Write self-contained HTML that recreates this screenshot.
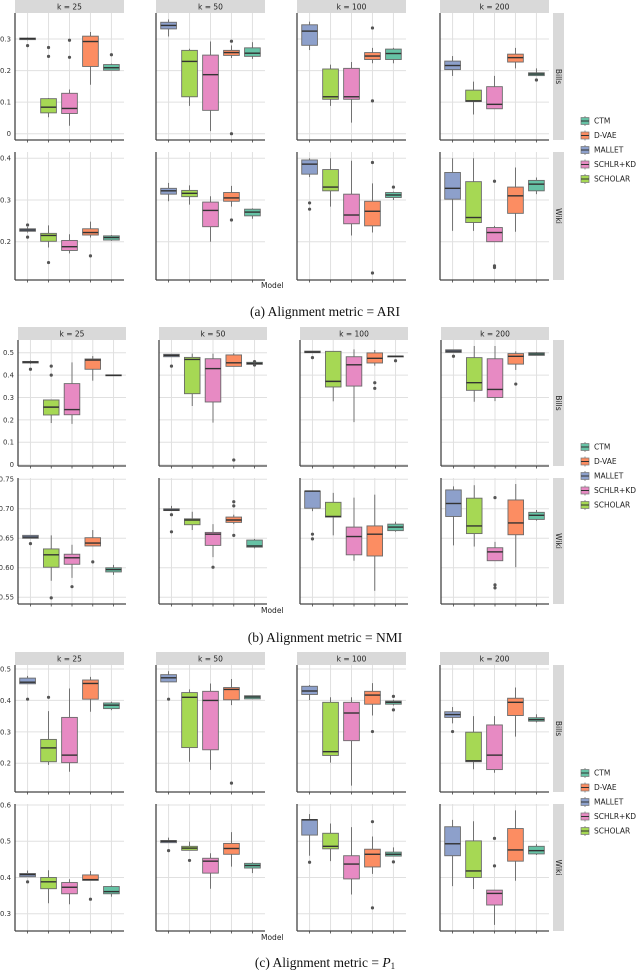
<!DOCTYPE html>
<html><head><meta charset="utf-8">
<style>
html,body{margin:0;padding:0;background:#fff;}
svg{display:block;}
.cap{font-family:"Liberation Serif",serif;font-size:13.5px;fill:#111;}
.tk{font-family:"DejaVu Sans","Liberation Sans",sans-serif;font-size:6.9px;fill:#333;}
.st{font-family:"DejaVu Sans","Liberation Sans",sans-serif;font-size:7.5px;fill:#222;}
.lg{font-family:"DejaVu Sans","Liberation Sans",sans-serif;font-size:7.5px;fill:#222;}
</style></head>
<body>
<svg id="chart" width="640" height="971" viewBox="0 0 640 971" xmlns="http://www.w3.org/2000/svg"></svg>
<script>
// Models in x order and legend order
const models = ["MALLET","SCHOLAR","SCHLR+KD","D-VAE","CTM"];
const legendModels = ["CTM","D-VAE","MALLET","SCHLR+KD","SCHOLAR"];
const kLabels = ["k = 25","k = 50","k = 100","k = 200"];
const datasets = ["Bills","Wiki"];
// each box: [lowWhisker, q1, median, q3, highWhisker, [outliers]]
const ariBills = [
 [[0.296,0.298,0.301,0.303,0.305,[0.279]],[0.052,0.066,0.084,0.111,0.113,[0.273,0.245]],[0.025,0.064,0.080,0.128,0.14,[0.296,0.242]],[0.155,0.213,0.292,0.309,0.322,[]],[0.20,0.201,0.209,0.219,0.222,[0.25]]],
 [[0.308,0.332,0.343,0.353,0.362,[]],[0.088,0.117,0.229,0.264,0.269,[]],[0.008,0.074,0.187,0.249,0.292,[]],[0.24,0.248,0.257,0.264,0.28,[0.293,0.0]],[0.237,0.245,0.255,0.272,0.29,[]]],
 [[0.265,0.28,0.325,0.345,0.355,[]],[0.088,0.109,0.117,0.205,0.219,[]],[0.035,0.109,0.117,0.207,0.227,[]],[0.223,0.235,0.246,0.257,0.272,[0.335,0.104]],[0.223,0.235,0.254,0.268,0.272,[]]],
 [[0.183,0.203,0.216,0.230,0.246,[]],[0.061,0.102,0.104,0.138,0.165,[]],[0.079,0.079,0.093,0.149,0.183,[]],[0.207,0.227,0.241,0.252,0.272,[]],[0.184,0.184,0.189,0.193,0.207,[0.17]]]
];
const ariWiki = [
 [[0.222,0.225,0.228,0.231,0.235,[0.24,0.211]],[0.186,0.201,0.215,0.22,0.239,[0.15]],[0.172,0.179,0.188,0.203,0.218,[]],[0.21,0.216,0.222,0.231,0.248,[0.166]],[0.202,0.204,0.21,0.214,0.216,[]]],
 [[0.297,0.314,0.322,0.328,0.341,[]],[0.289,0.308,0.316,0.323,0.335,[]],[0.2,0.236,0.275,0.295,0.309,[]],[0.284,0.297,0.305,0.318,0.334,[0.252]],[0.255,0.262,0.271,0.278,0.28,[]]],
 [[0.355,0.362,0.386,0.396,0.40,[0.293,0.278]],[0.284,0.322,0.331,0.373,0.40,[]],[0.215,0.243,0.264,0.314,0.394,[]],[0.222,0.238,0.273,0.297,0.34,[0.39,0.125]],[0.30,0.306,0.312,0.318,0.32,[0.331]]],
 [[0.226,0.302,0.328,0.366,0.40,[]],[0.226,0.246,0.258,0.344,0.40,[]],[0.2,0.2,0.222,0.234,0.238,[0.345,0.142,0.138]],[0.224,0.268,0.31,0.331,0.378,[]],[0.314,0.322,0.338,0.347,0.354,[]]]
];
const nmiBills = [
 [[0.45,0.454,0.458,0.461,0.465,[0.426]],[0.186,0.222,0.257,0.289,0.289,[0.44,0.40]],[0.182,0.223,0.246,0.362,0.457,[]],[0.375,0.426,0.467,0.472,0.485,[]],[0.397,0.397,0.399,0.401,0.401,[]]],
 [[0.482,0.482,0.488,0.493,0.493,[0.44]],[0.262,0.317,0.47,0.479,0.496,[]],[0.188,0.28,0.429,0.473,0.496,[]],[0.439,0.439,0.455,0.49,0.498,[0.021]],[0.448,0.448,0.452,0.457,0.457,[0.46,0.445]]],
 [[0.50,0.50,0.503,0.507,0.507,[0.478]],[0.283,0.347,0.372,0.506,0.506,[]],[0.19,0.351,0.446,0.482,0.515,[]],[0.442,0.454,0.475,0.499,0.512,[0.366,0.341]],[0.481,0.481,0.484,0.485,0.485,[0.464]]],
 [[0.501,0.501,0.507,0.513,0.513,[0.484]],[0.281,0.332,0.366,0.478,0.53,[]],[0.284,0.30,0.336,0.473,0.53,[]],[0.423,0.449,0.484,0.496,0.506,[0.36]],[0.488,0.488,0.494,0.5,0.503,[]]]
];
const nmiWiki = [
 [[0.650,0.650,0.652,0.655,0.655,[0.641]],[0.578,0.601,0.622,0.632,0.655,[0.549]],[0.583,0.606,0.617,0.623,0.639,[0.568]],[0.637,0.637,0.642,0.651,0.664,[0.610]],[0.588,0.593,0.597,0.600,0.605,[]]],
 [[0.697,0.697,0.698,0.700,0.705,[0.690,0.661]],[0.664,0.673,0.681,0.683,0.695,[]],[0.618,0.638,0.657,0.660,0.674,[0.601]],[0.674,0.677,0.681,0.686,0.690,[0.712,0.705,0.655]],[0.633,0.635,0.637,0.647,0.649,[]]],
 [[0.696,0.701,0.73,0.730,0.730,[0.657,0.649]],[0.655,0.686,0.687,0.711,0.727,[]],[0.612,0.622,0.653,0.669,0.719,[]],[0.561,0.620,0.657,0.671,0.724,[]],[0.661,0.663,0.669,0.674,0.678,[]]],
 [[0.638,0.687,0.709,0.732,0.738,[]],[0.636,0.658,0.671,0.718,0.740,[]],[0.612,0.612,0.627,0.634,0.644,[0.719,0.571,0.566]],[0.601,0.656,0.676,0.715,0.742,[]],[0.680,0.682,0.689,0.694,0.698,[]]]
];
const p1Bills = [
 [[0.453,0.453,0.458,0.471,0.478,[0.404]],[0.195,0.205,0.249,0.276,0.366,[0.41]],[0.173,0.202,0.226,0.346,0.438,[]],[0.364,0.404,0.454,0.465,0.475,[]],[0.369,0.374,0.385,0.392,0.396,[]]],
 [[0.459,0.459,0.472,0.482,0.493,[0.404]],[0.205,0.25,0.41,0.425,0.435,[]],[0.179,0.243,0.40,0.429,0.454,[]],[0.385,0.402,0.435,0.441,0.468,[0.137]],[0.405,0.405,0.411,0.415,0.415,[]]],
 [[0.401,0.419,0.43,0.445,0.449,[]],[0.202,0.225,0.237,0.394,0.41,[]],[0.129,0.272,0.36,0.394,0.41,[]],[0.352,0.388,0.417,0.429,0.455,[0.301]],[0.384,0.388,0.394,0.398,0.402,[0.413,0.37]]],
 [[0.327,0.346,0.355,0.364,0.379,[0.301]],[0.181,0.205,0.208,0.299,0.35,[]],[0.17,0.18,0.226,0.322,0.35,[]],[0.285,0.352,0.394,0.407,0.441,[]],[0.33,0.334,0.339,0.345,0.356,[]]]
];
const p1Wiki = [
 [[0.402,0.402,0.408,0.411,0.419,[0.388]],[0.329,0.369,0.388,0.40,0.42,[]],[0.326,0.355,0.373,0.386,0.395,[]],[0.392,0.392,0.394,0.407,0.418,[0.34]],[0.347,0.355,0.361,0.375,0.378,[]]],
 [[0.496,0.496,0.50,0.502,0.51,[0.474]],[0.475,0.475,0.481,0.486,0.499,[0.447]],[0.369,0.412,0.445,0.453,0.467,[]],[0.43,0.464,0.48,0.494,0.525,[]],[0.412,0.426,0.433,0.439,0.442,[]]],
 [[0.46,0.517,0.559,0.56,0.575,[0.442]],[0.445,0.479,0.486,0.522,0.549,[]],[0.353,0.396,0.437,0.46,0.539,[]],[0.41,0.429,0.464,0.478,0.513,[0.554,0.316]],[0.459,0.459,0.464,0.47,0.483,[0.443]]],
 [[0.376,0.46,0.493,0.54,0.559,[]],[0.368,0.40,0.418,0.501,0.555,[]],[0.269,0.324,0.356,0.365,0.365,[0.508,0.432]],[0.391,0.445,0.476,0.535,0.585,[]],[0.462,0.465,0.474,0.486,0.492,[]]]
];
const ariBillsTicks = [0,0.1,0.2,0.3];
const ariWikiTicks = [0.2,0.3,0.4];
const nmiBillsTicks = [0,0.1,0.2,0.3,0.4,0.5];
const nmiWikiTicks = [0.55,0.60,0.65,0.70,0.75];
const p1BillsTicks = [0.2,0.3,0.4,0.5];
const p1WikiTicks = [0.3,0.4,0.5,0.6];

const colors = {"CTM":"#66c2a5","D-VAE":"#fc8d62","MALLET":"#8da0cb","SCHLR+KD":"#e78ac3","SCHOLAR":"#a6d854"};
const NS = "http://www.w3.org/2000/svg";
const svg = document.getElementById('chart');
function mk(tag, attrs, parent){
  const e = document.createElementNS(NS, tag);
  for (const k in attrs) e.setAttribute(k, attrs[k]);
  (parent||svg).appendChild(e);
  return e;
}
function lin(v1,y1,v2,y2){ return v => y1 + (v - v1) * (y2 - y1) / (v2 - v1); }

const figs = [
 {id:"ari", strip:[0,13], rows:[[13,140],[152,280]], lefts:[15,156,297,440], w:109,
  data:[ariBills,ariWiki], ticks:[ariBillsTicks,ariWikiTicks], dec:[1,1],
  scales:[lin(0,133.7,0.3,39), lin(0.4,158.3,0.2,241.7)], legendY:121, modelY:288, capY:316, cap:"(a) Alignment metric = ARI"},
 {id:"nmi", strip:[327,340], rows:[[340,466],[478,604]], lefts:[18,159,300,441], w:108,
  data:[nmiBills,nmiWiki], ticks:[nmiBillsTicks,nmiWikiTicks], dec:[1,2],
  scales:[lin(0,464.7,0.5,352.7), lin(0.75,479.3,0.55,597.3)], legendY:447, modelY:613, capY:642, cap:"(b) Alignment metric = NMI"},
 {id:"p1", strip:[652,665], rows:[[665,792],[804,931]], lefts:[15,156,297,440], w:109,
  data:[p1Bills,p1Wiki], ticks:[p1BillsTicks,p1WikiTicks], dec:[1,1],
  scales:[lin(0.5,669,0.2,763.3), lin(0.6,805,0.3,913.7)], legendY:773, modelY:940, capY:967, cap:"(c) Alignment metric = P1"}
];

figs.forEach(f => {
  const g = mk('g', {});
  
  
  f.lefts.forEach((L, c) => {
    const r = mk('rect', {x:L, y:f.strip[0], width:f.w, height:f.strip[1]-f.strip[0], fill:'#d9d9d9'}, g);
    
    
    const t = mk('text', {x:L+f.w/2, y:f.strip[1]-3.5, 'text-anchor':'middle', class:'st'}, g);
    t.textContent = kLabels[c];
    
    
  });
  f.rows.forEach((row, ri) => {
    const [top, bot] = row;
    const ys = f.scales[ri];
    const rs = mk('rect', {x:553, y:top, width:11, height:bot-top, fill:'#d9d9d9'}, g);
    
    
    const cy = (top+bot)/2;
    const rt = mk('text', {x:558.5, y:cy, 'text-anchor':'middle', class:'st', transform:`rotate(90 558.5 ${cy})`, 'dominant-baseline':'central'}, g);
    rt.textContent = datasets[ri];
    
    
    f.ticks[ri].forEach(tv => {
      const y = ys(tv);
      const tl = mk('text', {x:f.lefts[0]-4, y:y+2.4, 'text-anchor':'end', class:'tk'}, g);
      tl.textContent = tv === 0 ? "0" : tv.toFixed(f.dec[ri]);
      
      
    });
    f.lefts.forEach((L, c) => {
      const pg = mk('g', {}, g);
      
      
      const xs = i => L + (i + 0.6) * f.w / 5.2;
      const bw = 0.75 * f.w / 5.2;
      f.ticks[ri].forEach(tv => {
        const y = ys(tv);
        if (y > top && y < bot) mk('line', {x1:L, x2:L+f.w, y1:y, y2:y, stroke:'#e0e0e0', 'stroke-width':1}, pg);
      });
      models.forEach((m, i) => mk('line', {x1:xs(i), x2:xs(i), y1:top, y2:bot, stroke:'#e0e0e0', 'stroke-width':1}, pg));
      f.data[ri][c].forEach((b, i) => {
        const [lo,q1,md,q3,hi,outs] = b;
        const x = xs(i);
        const bg = mk('g', {}, pg);
        
        
        mk('line', {x1:x, x2:x, y1:ys(hi), y2:ys(lo), stroke:'#666', 'stroke-width':0.9}, bg);
        const y3 = ys(q3), y1 = ys(q1);
        mk('rect', {x:x-bw/2, y:y3, width:bw, height:Math.max(0.8, y1-y3), fill:colors[models[i]], stroke:'#6a6a6a', 'stroke-width':0.9}, bg);
        mk('line', {x1:x-bw/2, x2:x+bw/2, y1:ys(md), y2:ys(md), stroke:'#333', 'stroke-width':1.4}, bg);
        outs.forEach(o => {
          const p = mk('circle', {cx:x, cy:ys(o), r:1.6, fill:'#555'}, bg);
          
          
        });
        mk('line', {x1:x, x2:x, y1:bot, y2:bot+2.5, stroke:'#444', 'stroke-width':0.8}, pg);
      });
      mk('line', {x1:L, x2:L, y1:top, y2:bot, stroke:'#444', 'stroke-width':1.3}, pg);
      mk('line', {x1:L, x2:L+f.w, y1:bot, y2:bot, stroke:'#444', 'stroke-width':1.3}, pg);
    });
  });
  legendModels.forEach((m, i) => {
    const y = f.legendY + i * 14.5;
    const lg = mk('g', {}, g);
    
    
    mk('line', {x1:585, x2:585, y1:y-5, y2:y+5, stroke:'#777', 'stroke-width':0.8}, lg);
    mk('rect', {x:581, y:y-3.5, width:8, height:7, fill:colors[m], stroke:'#777', 'stroke-width':0.7}, lg);
    mk('line', {x1:581, x2:589, y1:y, y2:y, stroke:'#333', 'stroke-width':1}, lg);
    const t = mk('text', {x:594, y:y+2.7, class:'lg'}, lg);
    t.textContent = m;
  });
  const ml = mk('text', {x:261, y:f.modelY, class:'st'}, g);
  ml.textContent = "Model";
  
  
  const cap = mk('text', {x:325, y:f.capY, 'text-anchor':'middle', class:'cap'}, g);
  if (f.id === 'p1') {
    cap.textContent = "(c) Alignment metric = ";
    const ts = mk('tspan', {'font-style':'italic'}, cap); ts.textContent = "P";
    const sb = mk('tspan', {'font-size':'9px', dy:'2'}, cap); sb.textContent = "1";
  } else cap.textContent = f.cap;
  
  
});
</script>
</body></html>
